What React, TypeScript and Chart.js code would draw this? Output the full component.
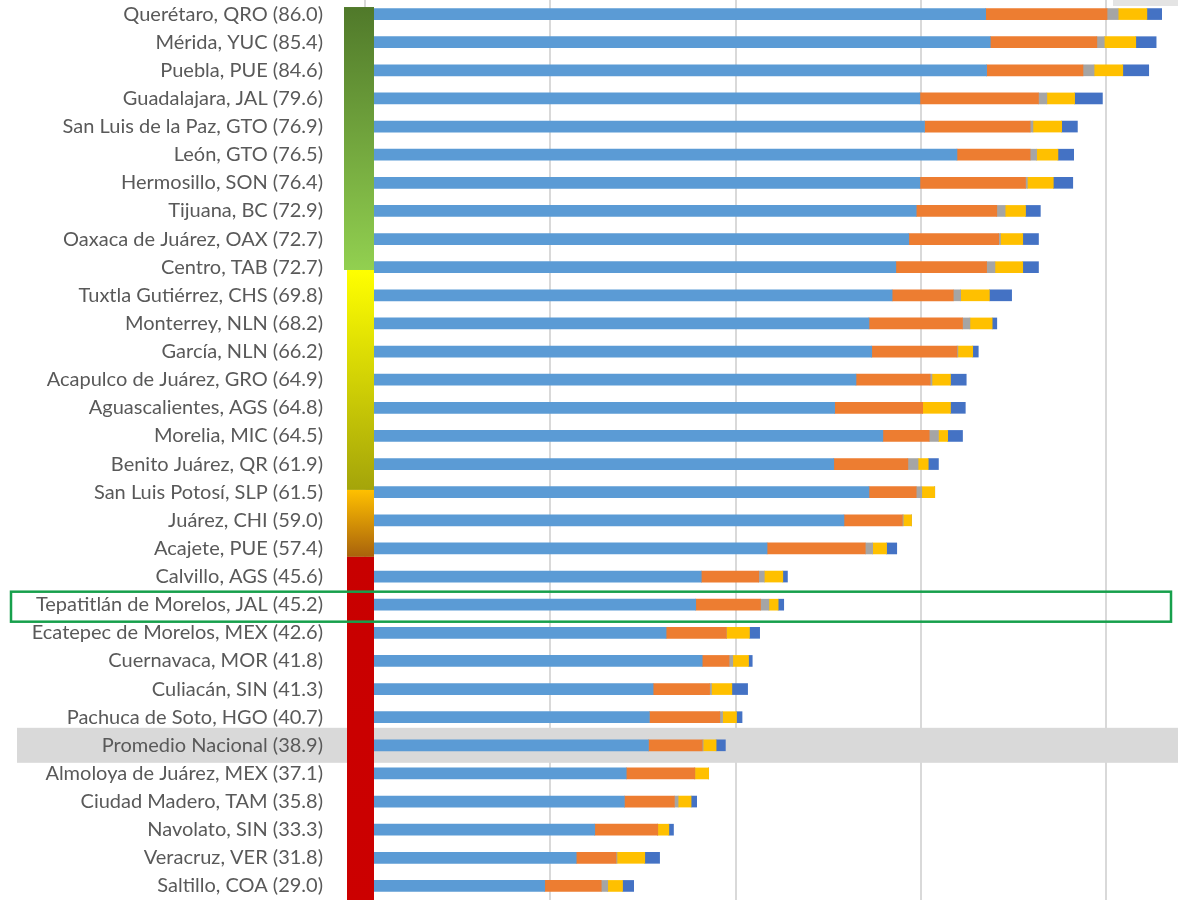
import React, { useEffect, useRef } from "react";
import { Chart, registerables } from "chart.js";

Chart.register(...registerables);

const labels = [
  "Querétaro, QRO (86.0)",
  "Mérida, YUC (85.4)",
  "Puebla, PUE (84.6)",
  "Guadalajara, JAL (79.6)",
  "San Luis de la Paz, GTO (76.9)",
  "León, GTO (76.5)",
  "Hermosillo, SON (76.4)",
  "Tijuana, BC (72.9)",
  "Oaxaca de Juárez, OAX (72.7)",
  "Centro, TAB (72.7)",
  "Tuxtla Gutiérrez, CHS (69.8)",
  "Monterrey, NLN (68.2)",
  "García, NLN (66.2)",
  "Acapulco de Juárez, GRO (64.9)",
  "Aguascalientes, AGS (64.8)",
  "Morelia, MIC (64.5)",
  "Benito Juárez, QR (61.9)",
  "San Luis Potosí, SLP (61.5)",
  "Juárez, CHI (59.0)",
  "Acajete, PUE (57.4)",
  "Calvillo, AGS (45.6)",
  "Tepatitlán de Morelos, JAL (45.2)",
  "Ecatepec de Morelos, MEX (42.6)",
  "Cuernavaca, MOR (41.8)",
  "Culiacán, SIN (41.3)",
  "Pachuca de Soto, HGO (40.7)",
  "Promedio Nacional (38.9)",
  "Almoloya de Juárez, MEX (37.1)",
  "Ciudad Madero, TAM (35.8)",
  "Navolato, SIN (33.3)",
  "Veracruz, VER (31.8)",
  "Saltillo, COA (29.0)",
];

const serie1 = [67.0, 67.5, 67.1, 59.9, 60.4, 63.9, 59.9, 59.5, 58.7, 57.3, 56.9, 54.4, 54.7, 53.0, 50.7, 55.9, 50.6, 54.4, 51.7, 43.4, 36.3, 35.7, 32.5, 36.4, 31.1, 30.7, 30.6, 28.2, 28.0, 24.8, 22.8, 19.4];
const serie2 = [13.1, 11.5, 10.4, 12.8, 11.4, 7.9, 11.4, 8.7, 9.7, 9.8, 6.6, 10.1, 9.2, 8.0, 9.5, 5.0, 8.0, 5.1, 6.3, 10.6, 6.2, 7.0, 6.5, 2.9, 6.1, 7.6, 5.8, 7.4, 5.4, 6.8, 4.3, 6.1];
const serie3 = [1.2, 0.8, 1.2, 0.9, 0.3, 0.7, 0.2, 0.9, 0.2, 0.9, 0.8, 0.8, 0.1, 0.2, 0, 1.0, 1.1, 0.6, 0.1, 0.8, 0.6, 0.9, 0, 0.4, 0.2, 0.3, 0.1, 0, 0.4, 0, 0.1, 0.7];
const serie4 = [3.1, 3.4, 3.1, 3.0, 3.1, 2.3, 2.8, 2.2, 2.4, 3.0, 3.1, 2.4, 1.6, 2.0, 3.0, 1.0, 1.1, 1.4, 0.9, 1.5, 2.0, 1.0, 2.5, 1.7, 2.2, 1.5, 1.4, 1.5, 1.4, 1.2, 3.0, 1.6];
const serie5 = [1.6, 2.2, 2.8, 3.0, 1.7, 1.7, 2.1, 1.6, 1.7, 1.7, 2.4, 0.5, 0.6, 1.7, 1.6, 1.6, 1.1, 0, 0, 1.1, 0.5, 0.6, 1.1, 0.4, 1.7, 0.6, 1.0, 0, 0.6, 0.5, 1.6, 1.2];

const seriesNames = ["Componente 1", "Componente 2", "Componente 3", "Componente 4", "Componente 5"];
const seriesColors = ["#5B9BD5", "#ED7D31", "#A5A5A5", "#FFC000", "#4472C4"];

const xMax = 87.76;
const highlightIndex = 21;
const averageIndex = 26;

// colour zones of the side stripe (in category-index units)
const zoneBounds = [-0.25, 9.1, 16.92, 19.3, 31.6];
const zoneColors = [
  ["#50792a", "#92d050"],
  ["#ffff00", "#a4a40a"],
  ["#ffc000", "#a8620c"],
  ["#c80000", "#cc0000"],
];

const decorPlugin = {
  id: "decor",
  beforeDraw(chart: any) {
    const { ctx, scales } = chart;
    const y = scales.y;
    const c = y.getPixelForValue(averageIndex);
    ctx.save();
    ctx.fillStyle = "#d9d9d9";
    ctx.fillRect(17, c - 17.5, chart.width - 17, 35);
    ctx.fillStyle = "#e4e4e4";
    ctx.fillRect(1113, 0, chart.width - 1113, 6);
    ctx.restore();
  },
  afterDatasetsDraw(chart: any) {
    const { ctx, scales, chartArea } = chart;
    const y = scales.y;
    const left = chartArea.left - 21;
    const w = 30;
    ctx.save();
    for (let i = 0; i < zoneColors.length; i++) {
      const y0 = y.getPixelForValue(zoneBounds[i]);
      const y1 = y.getPixelForValue(zoneBounds[i + 1]);
      const g = ctx.createLinearGradient(0, y0, 0, y1);
      g.addColorStop(0, zoneColors[i][0]);
      g.addColorStop(1, zoneColors[i][1]);
      ctx.fillStyle = g;
      const x = i === 0 ? left : left + 3;
      ctx.fillRect(x, y0, w - (x - left), y1 - y0);
    }
    // highlight box
    const hc = y.getPixelForValue(highlightIndex) + 2;
    ctx.strokeStyle = "#17a04c";
    ctx.lineWidth = 2.5;
    ctx.strokeRect(11, hc - 15, 1160, 30);
    ctx.restore();
  },
};

export default function App() {
  const ref = useRef<HTMLCanvasElement | null>(null);
  useEffect(() => {
    if (!ref.current) return;
    const chart = new Chart(ref.current, {
      type: "bar",
      data: {
        labels,
        datasets: [serie1, serie2, serie3, serie4, serie5].map((d, i) => ({
          label: seriesNames[i],
          data: d,
          backgroundColor: seriesColors[i],
          borderWidth: 0,
          barThickness: 11,
        })),
      },
      options: {
        indexAxis: "y",
        animation: false,
        responsive: false,
        layout: { padding: 0 },
        plugins: { legend: { display: false }, tooltip: { enabled: false } },
        scales: {
          x: {
            stacked: true,
            min: 0,
            max: xMax,
            ticks: { display: false, stepSize: 20 },
            afterBuildTicks: (s: any) => {
              s.ticks = s.ticks.filter((t: any) => t.value % 20 === 0);
            },
            afterFit: (s: any) => {
              s.height = 0;
              s.paddingLeft = 0;
              s.paddingRight = 0;
            },
            grid: { color: "#d9d9d9", lineWidth: 2, drawTicks: false },
            border: { display: false },
          },
          y: {
            stacked: true,
            afterFit: (s: any) => {
              s.width = 365;
              s.paddingTop = 0;
              s.paddingBottom = 0;
            },
            ticks: {
              color: "#595959",
              font: { family: "Lato", size: 20 },
              padding: 42,
              autoSkip: false,
            },
            grid: { display: false, drawTicks: false },
            border: { display: false },
          },
        },
      },
      plugins: [decorPlugin],
    } as any);
    return () => chart.destroy();
  }, []);
  return (
    <div style={{ position: "fixed", left: 0, top: 0, width: 1178, height: 900, background: "#fff" }}>
      <canvas ref={ref} width={1178} height={900} />
    </div>
  );
}
